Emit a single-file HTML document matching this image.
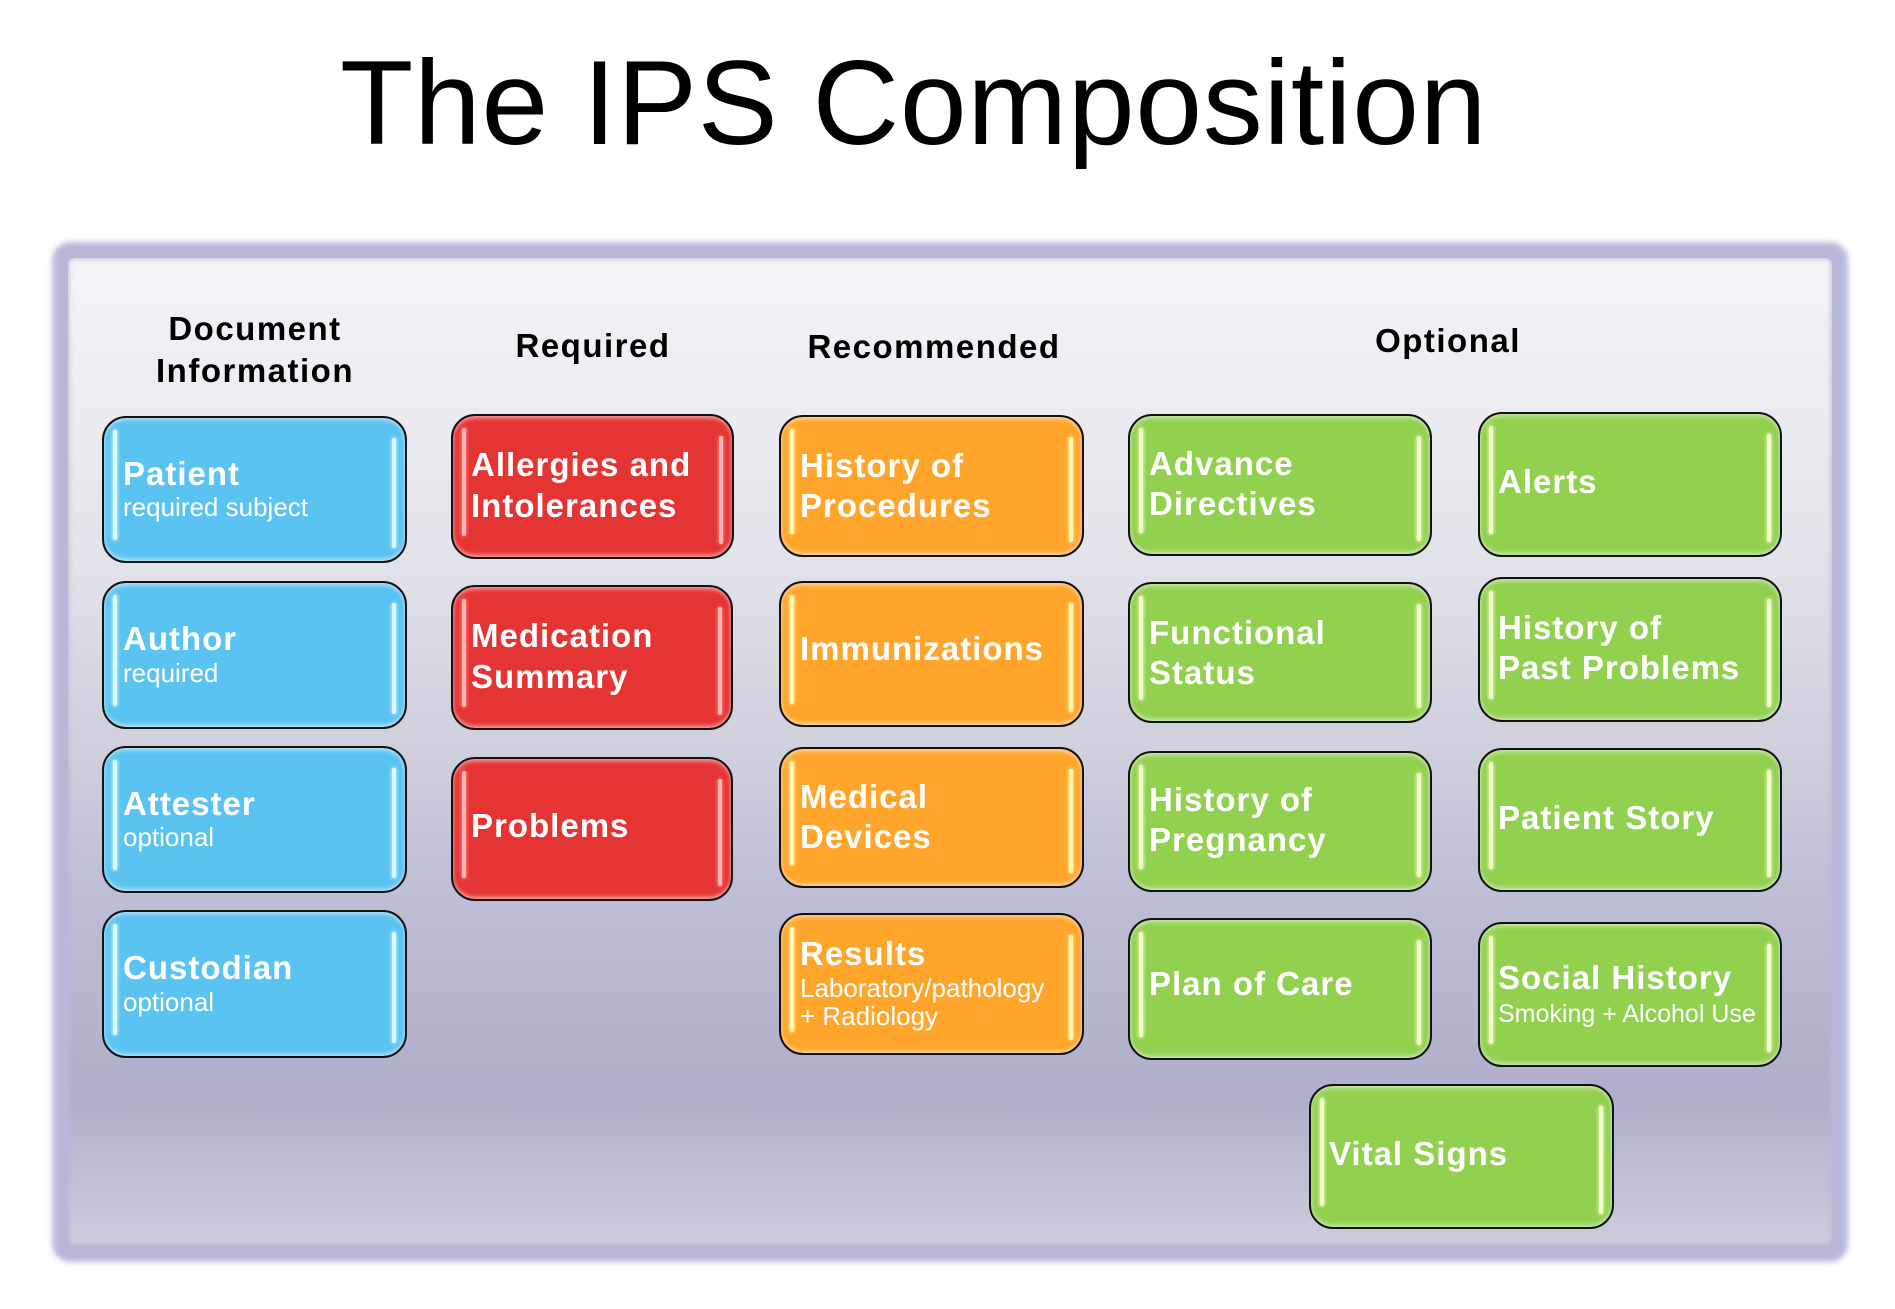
<!DOCTYPE html>
<html>
<head>
<meta charset="utf-8">
<style>
  html,body{margin:0;padding:0;background:#fff;}
  body{width:1895px;height:1309px;position:relative;overflow:hidden;font-family:"Liberation Sans",Arial,sans-serif;}
  .frame-out{position:absolute;left:52px;top:242px;width:1796px;height:1020px;background:#b7b8d8;border-radius:18px;filter:blur(3px);}
  .frame-in{position:absolute;left:68px;top:258px;width:1764px;height:987px;border-radius:6px;
    background:linear-gradient(to bottom,#f4f4f7 0%,#e3e3eb 30%,#cfcfdd 50%,#bdbdd4 65%,#afafcb 85%,#cdcddd 100%);
    box-shadow:inset 0 0 5px 1px rgba(183,184,216,.85);}
  .b{position:absolute;box-sizing:border-box;border:2px solid #121212;border-radius:24px;
    box-shadow:inset 0 5px 5px -3px rgba(255,255,255,.55),inset 0 -5px 5px -3px rgba(255,255,255,.55),
               inset 4px 0 4px -3px rgba(255,255,255,.35),inset -4px 0 4px -3px rgba(255,255,255,.35);}
  .b::before,.b::after{content:"";position:absolute;width:4px;border-radius:3px;}
  .b::before{left:9px;top:12px;bottom:21px;}
  .b::after{right:9px;top:20px;bottom:13px;}
  .bl{background:#5bc3f1;}
  .bl::before,.bl::after{background:#dcfbff;box-shadow:0 0 3px 1px rgba(200,245,255,.8);}
  .rd{background:#e53434;}
  .rd::before,.rd::after{background:#ffb4b4;box-shadow:0 0 3px 1px rgba(255,150,150,.7);}
  .or{background:#ffa52c;}
  .or::before,.or::after{background:#fff8b0;box-shadow:0 0 3px 1px rgba(255,240,150,.8);}
  .gr{background:#92d050;}
  .gr::before,.gr::after{background:#f6ffd0;box-shadow:0 0 3px 1px rgba(235,255,180,.8);}
  svg.txt{position:absolute;left:0;top:0;}
  .t{font-family:"Liberation Sans",Arial,sans-serif;font-weight:bold;font-size:33px;letter-spacing:1px;fill:#fff;}
  .s{font-family:"Liberation Sans",Arial,sans-serif;font-weight:normal;font-size:26px;fill:#fff;}
  .h{font-family:"Liberation Sans",Arial,sans-serif;font-weight:bold;font-size:33px;letter-spacing:1.5px;fill:#000;}
  .title{font-family:"Liberation Sans",Arial,sans-serif;font-size:120px;letter-spacing:0.7px;fill:#000;}
</style>
</head>
<body>
<div class="frame-out"></div>
<div class="frame-in"></div>

<!-- Blue column -->
<div class="b bl" style="left:102px;top:416px;width:305px;height:147px;"></div>
<div class="b bl" style="left:102px;top:581px;width:305px;height:148px;"></div>
<div class="b bl" style="left:102px;top:746px;width:305px;height:147px;"></div>
<div class="b bl" style="left:102px;top:910px;width:305px;height:148px;"></div>

<!-- Red column -->
<div class="b rd" style="left:451px;top:414px;width:283px;height:145px;"></div>
<div class="b rd" style="left:451px;top:585px;width:282px;height:145px;"></div>
<div class="b rd" style="left:451px;top:757px;width:282px;height:144px;"></div>

<!-- Orange column -->
<div class="b or" style="left:779px;top:415px;width:305px;height:142px;"></div>
<div class="b or" style="left:779px;top:581px;width:305px;height:146px;"></div>
<div class="b or" style="left:779px;top:747px;width:305px;height:141px;"></div>
<div class="b or" style="left:779px;top:913px;width:305px;height:142px;"></div>

<!-- Green column 1 -->
<div class="b gr" style="left:1128px;top:414px;width:304px;height:142px;"></div>
<div class="b gr" style="left:1128px;top:582px;width:304px;height:141px;"></div>
<div class="b gr" style="left:1128px;top:751px;width:304px;height:141px;"></div>
<div class="b gr" style="left:1128px;top:918px;width:304px;height:142px;"></div>

<!-- Green column 2 -->
<div class="b gr" style="left:1478px;top:412px;width:304px;height:145px;"></div>
<div class="b gr" style="left:1478px;top:577px;width:304px;height:145px;"></div>
<div class="b gr" style="left:1478px;top:748px;width:304px;height:144px;"></div>
<div class="b gr" style="left:1478px;top:922px;width:304px;height:145px;"></div>

<!-- Vital signs -->
<div class="b gr" style="left:1309px;top:1084px;width:305px;height:145px;"></div>

<svg class="txt" width="1895" height="1309" viewBox="0 0 1895 1309" xmlns="http://www.w3.org/2000/svg">
  <text class="title" x="340" y="144">The IPS Composition</text>

  <text class="h" x="255" y="340" text-anchor="middle">Document</text>
  <text class="h" x="255" y="382" text-anchor="middle">Information</text>
  <text class="h" x="593" y="357" text-anchor="middle">Required</text>
  <text class="h" x="934" y="358" text-anchor="middle">Recommended</text>
  <text class="h" x="1448" y="352" text-anchor="middle">Optional</text>

  <!-- Blue -->
  <text class="t" x="123" y="485">Patient</text>
  <text class="s" x="123" y="516">required subject</text>
  <text class="t" x="123" y="650">Author</text>
  <text class="s" x="123" y="682">required</text>
  <text class="t" x="123" y="815">Attester</text>
  <text class="s" x="123" y="846">optional</text>
  <text class="t" x="123" y="979">Custodian</text>
  <text class="s" x="123" y="1011">optional</text>

  <!-- Red -->
  <text class="t" x="471" y="476">Allergies and</text>
  <text class="t" x="471" y="517">Intolerances</text>
  <text class="t" x="471" y="647">Medication</text>
  <text class="t" x="471" y="688">Summary</text>
  <text class="t" x="471" y="837">Problems</text>

  <!-- Orange -->
  <text class="t" x="800" y="477">History of</text>
  <text class="t" x="800" y="517">Procedures</text>
  <text class="t" x="800" y="660">Immunizations</text>
  <text class="t" x="800" y="808">Medical</text>
  <text class="t" x="800" y="848">Devices</text>
  <text class="t" x="800" y="965">Results</text>
  <text class="s" x="800" y="997">Laboratory/pathology</text>
  <text class="s" x="800" y="1025">+ Radiology</text>

  <!-- Green 1 -->
  <text class="t" x="1149" y="475">Advance</text>
  <text class="t" x="1149" y="515">Directives</text>
  <text class="t" x="1149" y="644">Functional</text>
  <text class="t" x="1149" y="684">Status</text>
  <text class="t" x="1149" y="811">History of</text>
  <text class="t" x="1149" y="851">Pregnancy</text>
  <text class="t" x="1149" y="995">Plan of Care</text>

  <!-- Green 2 -->
  <text class="t" x="1498" y="493">Alerts</text>
  <text class="t" x="1498" y="639">History of</text>
  <text class="t" x="1498" y="679">Past Problems</text>
  <text class="t" x="1498" y="829">Patient Story</text>
  <text class="t" x="1498" y="989">Social History</text>
  <text class="s" x="1498" y="1022" style="font-size:25px">Smoking + Alcohol Use</text>

  <!-- Vital -->
  <text class="t" x="1329" y="1165">Vital Signs</text>
</svg>
</body>
</html>
